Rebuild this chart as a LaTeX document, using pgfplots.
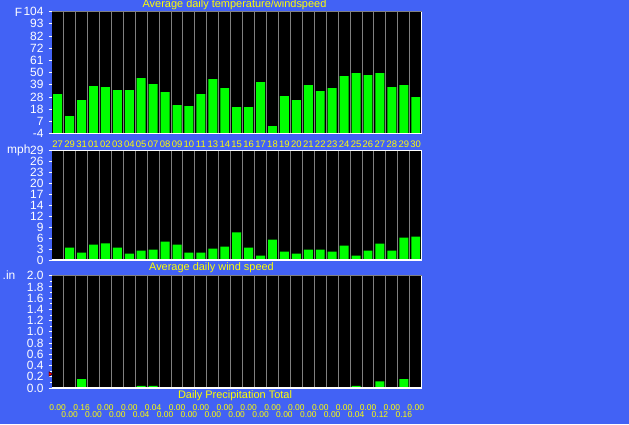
\documentclass[border=0pt]{standalone}
\usepackage{fontspec}
\setmainfont{Liberation Sans}
\usepackage{pgfplots}
\pgfplotsset{compat=1.18}
\usepackage{pgfplotstable}

\definecolor{bgblue}{RGB}{66,98,245}
\definecolor{bargreen}{RGB}{0,255,0}
\definecolor{colgray}{RGB}{128,128,128}
\definecolor{ttlyellow}{RGB}{255,255,0}

% daily readings: index, average temperature (F), average wind (mph), precipitation (in)
\pgfplotstableread{
k temp wind rain
0  30.9 0    0.00
1  11.4 3.3  0.00
2  25.6 1.96 0.16
3  38.0 4.1  0.00
4  37.1 4.4  0.00
5  34.4 3.3  0.00
6  34.4 1.7  0.00
7  45.1 2.5  0.04
8  39.8 2.76 0.04
9  32.7 4.9  0.00
10 21.1 4.1  0.00
11 20.2 1.96 0.00
12 30.9 1.96 0.00
13 44.2 3.0  0.00
14 36.2 3.56 0.00
15 19.4 7.3  0.00
16 19.4 3.3  0.00
17 41.6 1.16 0.00
18 2.5  5.4  0.00
19 29.1 2.2  0.00
20 25.6 1.7  0.00
21 38.9 2.76 0.00
22 33.5 2.76 0.00
23 36.2 2.2  0.00
24 46.9 3.8  0.00
25 49.5 1.16 0.04
26 47.8 2.5  0.00
27 49.5 4.36 0.12
28 37.1 2.5  0.00
29 38.9 5.96 0.16
30 28.2 6.2  0.00
}\weather

\pgfplotsset{
  panel/.style={
    scale only axis, width=370bp,
    xmin=-0.5, xmax=30.5,
    axis line style={draw=none},
    axis background/.style={fill=black},
    tick align=outside,
    major tick length=3bp, minor tick length=2bp,
    ytick pos=left,
    ytick style={white, line width=0.9bp},
    minor y tick style={white, line width=0.9bp},
    xtick style={draw=none},
    minor x tick style={draw=none},
    minor xtick={0.5,1.5,...,29.5},
    xminorgrids,
    minor x grid style={colgray, line width=1bp},
    yticklabel style={font=\fontsize{12}{12}\selectfont, text=white, inner sep=0pt, anchor=east, xshift=-5bp},
    clip=false,
    after end axis/.code={
      \draw[white, line width=1.2bp] (rel axis cs:0,0) -- (rel axis cs:1,0) -- (rel axis cs:1,1);
    },
  },
  greenbar/.style={ybar, bar width=0.75, bar shift=0pt, fill=bargreen, draw=none},
}

\begin{document}
\begin{tikzpicture}[x=1bp,y=1bp]
\fill[bgblue] (0,0) rectangle (629,424);

% temperature panel
\begin{axis}[panel,
  at={(51.7bp,290.5bp)}, anchor=south west, height=121.8bp,
  ymin=0, ymax=108,
  ytick={0,10.8,21.6,32.4,43.2,54,64.8,75.6,86.4,97.2,108},
  yticklabels={-4,7,18,28,39,50,61,72,82,93,104},
  xtick={0,...,30},
  xticklabels={27,29,31,01,02,03,04,05,07,08,09,10,11,13,14,15,16,17,18,19,20,21,22,23,24,25,26,27,28,29,30},
  xticklabel style={text=ttlyellow, font=\fontsize{9.5}{9.5}\selectfont, anchor=north, inner sep=0pt, yshift=-4bp},
  after end axis/.append code={
    \draw[colgray, line width=1bp] (rel axis cs:0,1) -- (rel axis cs:1,1);
  },
]
\addplot[greenbar] table[x=k, y expr=\thisrow{temp}+4] {\weather};
\end{axis}

% wind panel
\begin{axis}[panel,
  at={(51.7bp,164bp)}, anchor=south west, height=109.3bp,
  ymin=0, ymax=29,
  ytick={0,2.9,5.8,8.7,11.6,14.5,17.4,20.3,23.2,26.1,29},
  yticklabels={0,3,6,9,12,14,17,20,23,26,29},
  xtick={0,...,30}, xticklabels={},
  after end axis/.append code={
    \draw[white, line width=1.2bp] (rel axis cs:0,1) -- (rel axis cs:1,1);
  },
]
\addplot[greenbar] table[x=k, y=wind] {\weather};
\end{axis}

% precipitation panel
\begin{axis}[panel,
  at={(51.7bp,36bp)}, anchor=south west, height=112.3bp,
  ymin=0, ymax=2,
  ytick={0,0.2,0.4,0.6,0.8,1.0,1.2,1.4,1.6,1.8,2.0},
  yticklabels={0.0,0.2,0.4,0.6,0.8,1.0,1.2,1.4,1.6,1.8,2.0},
  minor y tick num=1,
  xtick={0,2,...,30},
  xticklabels={0.00,0.16,0.00,0.00,0.04,0.00,0.00,0.00,0.00,0.00,0.00,0.00,0.00,0.00,0.00,0.00},
  extra x ticks={1,3,...,29},
  extra x tick labels={0.00,0.00,0.00,0.04,0.00,0.00,0.00,0.00,0.00,0.00,0.00,0.00,0.04,0.12,0.16},
  xticklabel style={text=ttlyellow, font=\fontsize{8.5}{8.5}\selectfont, anchor=north, inner sep=0pt, yshift=-13bp},
  extra x tick style={xticklabel style={yshift=-7bp}, tick style={draw=none}},
  after end axis/.append code={
    \draw[colgray, line width=1bp] (rel axis cs:0,1) -- (rel axis cs:1,1);
  },
]
\addplot[greenbar] table[x=k, y=rain] {\weather};
\addplot[only marks, mark=triangle*, mark size=2.6bp, mark options={red, draw=black, line width=0.4bp, rotate=-90}] coordinates {(-0.62,0.25)};
\end{axis}

% titles and units
\node[text=ttlyellow, font=\fontsize{11}{11}\selectfont] at (234.5,419) {Average daily temperature/windspeed};
\node[text=ttlyellow, font=\fontsize{11}{11}\selectfont] at (211.5,156.5) {Average daily wind speed};
\node[text=ttlyellow, font=\fontsize{11}{11}\selectfont] at (235,28.5) {Daily Precipitation Total};
\node[text=white, font=\fontsize{12}{12}\selectfont] at (18.5,412) {F};
\node[text=white, font=\fontsize{12}{12}\selectfont, anchor=east] at (34,273.3) {mph};
\node[text=white, font=\fontsize{12}{12}\selectfont] at (9,149) {.in};

\pgfresetboundingbox
\useasboundingbox (0,0) rectangle (629,424);
\end{tikzpicture}
\end{document}
